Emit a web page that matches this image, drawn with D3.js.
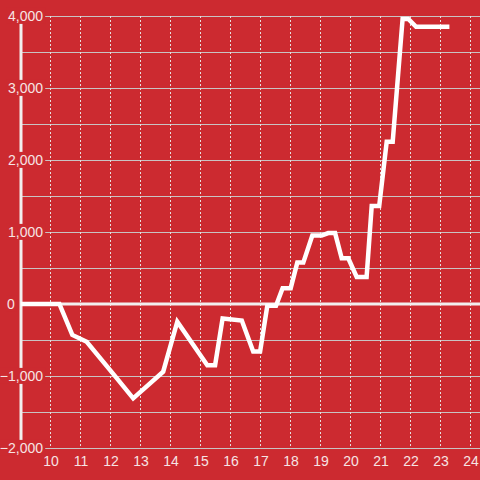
<!DOCTYPE html>
<html>
<head>
<meta charset="utf-8">
<script src="https://cdn.jsdelivr.net/npm/d3@7"></script>
<style>
  html, body { margin: 0; padding: 0; background: #cc2a30; }
  svg { display: block; font-family: "Liberation Sans", Arial, sans-serif; }
</style>
</head>
<body>
<div id="chart"></div>
<script>
// hour of day and running total
const hours = [9, 10.28, 10.71, 11.19, 12.19, 12.74, 13.74, 14.21, 15.21, 15.47, 15.72, 16.36,
  16.74, 16.97, 17.21, 17.5, 17.72, 17.99, 18.21, 18.41, 18.71, 19.02, 19.24, 19.47,
  19.69, 19.91, 20.19, 20.52, 20.69, 20.94, 21.19, 21.39, 21.72, 21.91, 22.17, 23.28];
const totals = [0, 0, -430, -525, -1030, -1310, -940, -245, -850, -850, -200, -230,
  -660, -660, -25, -25, 220, 220, 575, 575, 950, 950, 985, 985,
  635, 635, 375, 375, 1360, 1360, 2255, 2255, 3960, 3960, 3850, 3850];
const xTicks = d3.range(10, 25);
const yTicks = [-2000, -1000, 0, 1000, 2000, 3000, 4000];
const yGrid = d3.range(-2000, 4001, 500);

const width = 480, height = 480;
const bg = "#cc2a30";

const svg = d3.select("#chart").append("svg")
  .attr("width", width)
  .attr("height", height);

svg.append("rect").attr("width", width).attr("height", height).attr("fill", bg);

const x = d3.scaleLinear().domain([9, 24.3]).range([21, 480]);
const y = d3.scaleLinear().domain([-2000, 4000]).range([448, 16]);

// horizontal grid
svg.append("g").selectAll("line")
  .data(yGrid)
  .enter().append("line")
  .attr("x1", x(9)).attr("x2", width)
  .attr("y1", d => Math.round(y(d)) + 0.5)
  .attr("y2", d => Math.round(y(d)) + 0.5)
  .attr("stroke", "#c9c3c3")
  .attr("stroke-width", 1.2);

// vertical dashed grid
svg.append("g").selectAll("line")
  .data(xTicks)
  .enter().append("line")
  .attr("x1", d => Math.round(x(d)) - 0.5)
  .attr("x2", d => Math.round(x(d)) - 0.5)
  .attr("y1", y(4000)).attr("y2", y(-2000))
  .attr("stroke", "#e6dede")
  .attr("stroke-dasharray", "2,2");

// left axis and zero line
svg.append("line")
  .attr("x1", x(9)).attr("x2", x(9))
  .attr("y1", y(4000)).attr("y2", y(-2000))
  .attr("stroke", "#f2eeee").attr("stroke-width", 3);

svg.append("line")
  .attr("x1", x(9)).attr("x2", width)
  .attr("y1", y(0)).attr("y2", y(0))
  .attr("stroke", "#f2eeee").attr("stroke-width", 3);

// data line
const line = d3.line()
  .x((d, i) => x(hours[i]))
  .y(d => y(d));

svg.append("path")
  .datum(totals)
  .attr("fill", "none")
  .attr("stroke", "#ffffff")
  .attr("stroke-width", 4.5)
  .attr("stroke-linejoin", "miter")
  .attr("d", line);

// y labels with background boxes (the zero label sits further left)
const fmt = d3.format(",");
const yl = svg.append("g").selectAll("g")
  .data(yTicks)
  .enter().append("g")
  .attr("transform", d => d === 0 ? `translate(7,${y(d)})` : `translate(43,${y(d)})`);

yl.append("text")
  .attr("text-anchor", d => d === 0 ? "start" : "end")
  .attr("dy", "0.35em")
  .attr("fill", "#f6e4e4")
  .style("font-size", "14px")
  .text(d => fmt(d))
  .each(function () {
    const b = this.getBBox();
    d3.select(this.parentNode).insert("rect", "text")
      .attr("x", b.x - 1).attr("y", b.y)
      .attr("width", b.width + 3).attr("height", b.height)
      .attr("fill", bg);
  });

// x labels
svg.append("g").selectAll("text")
  .data(xTicks)
  .enter().append("text")
  .attr("x", d => x(d))
  .attr("y", 461)
  .attr("dy", "0.35em")
  .attr("text-anchor", "middle")
  .attr("fill", "#f6e4e4")
  .style("font-size", "14px")
  .text(d => d);
</script>
</body>
</html>
